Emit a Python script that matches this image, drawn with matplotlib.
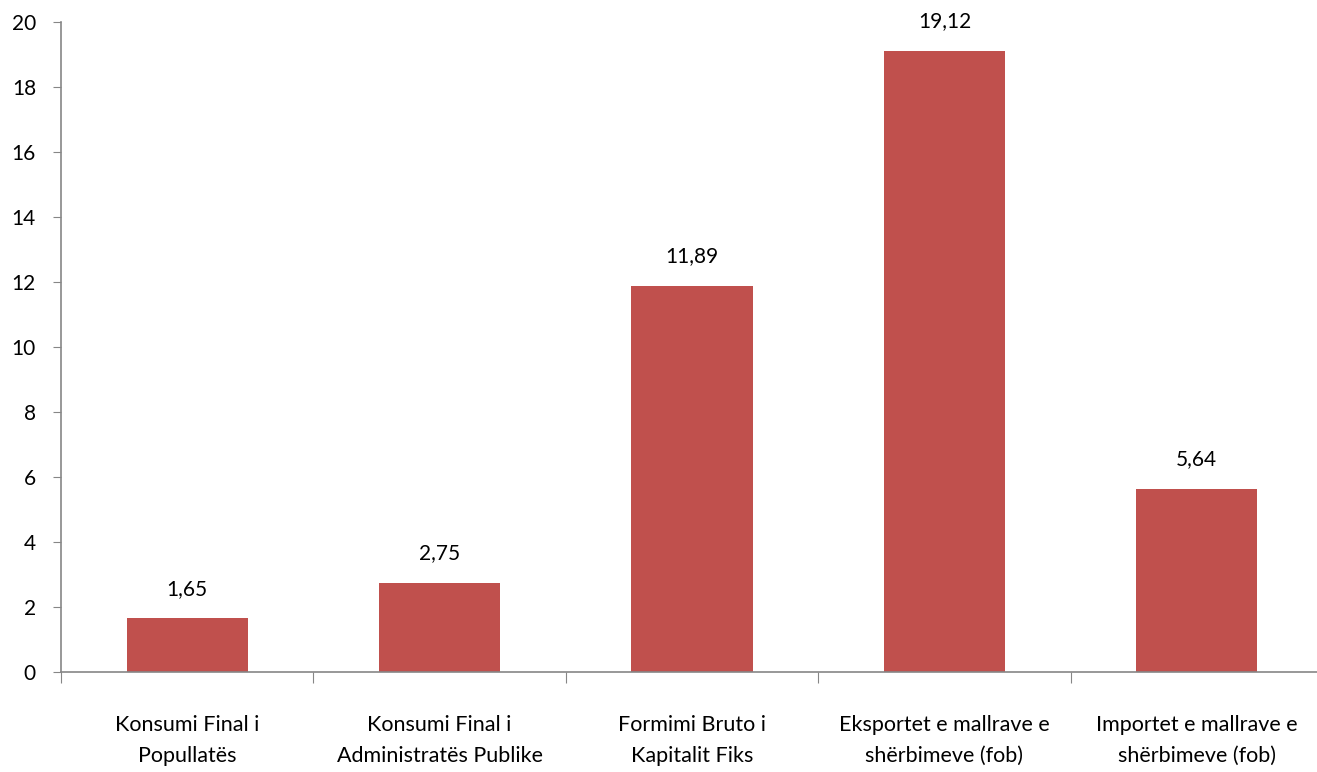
import numpy as np
import matplotlib.pyplot as plt

categories = ["Konsumi Final i\nPopullatës",
              "Konsumi Final i\nAdministratës Publike",
              "Formimi Bruto i\nKapitalit Fiks",
              "Eksportet e mallrave e\nshërbimeve (fob)",
              "Importet e mallrave e\nshërbimeve (fob)"]
values = [1.65, 2.75, 11.89, 19.12, 5.64]
labels = ["1,65", "2,75", "11,89", "19,12", "5,64"]

plt.rcParams['font.family'] = ['Lato', 'DejaVu Sans']
fs = 15

fig = plt.figure(figsize=(13.17, 7.72), dpi=100)
ax = fig.add_axes([61 / 1317, 100 / 772, 1262 / 1317, 650 / 772])

x = np.arange(len(categories))
ax.bar(x, values, width=0.48, color="#C0504D")
for xi, v, lab in zip(x, values, labels):
    ax.text(xi, v + 0.6, lab, ha="center", va="bottom", fontsize=fs)

ax.set_xlim(-0.5, 4.5)
ax.set_ylim(0, 20)
ax.set_yticks(range(0, 21, 2))
ax.set_xticks(np.arange(-0.5, 5, 1))
ax.set_xticklabels([])
ax.set_xticks(x, minor=True)
ax.set_xticklabels(categories, minor=True, fontsize=15.5, linespacing=1.7)
ax.tick_params(axis="x", which="minor", length=0, pad=31)
ax.tick_params(axis="x", which="major", length=8, color="#868686", direction="out")
ax.tick_params(axis="y", length=6, color="#868686", labelsize=fs, pad=12)

for s in ["top", "right"]:
    ax.spines[s].set_visible(False)
for s in ["left", "bottom"]:
    ax.spines[s].set_color("#868686")
    ax.spines[s].set_linewidth(1.2)

fig.savefig("out.png", dpi=100)
